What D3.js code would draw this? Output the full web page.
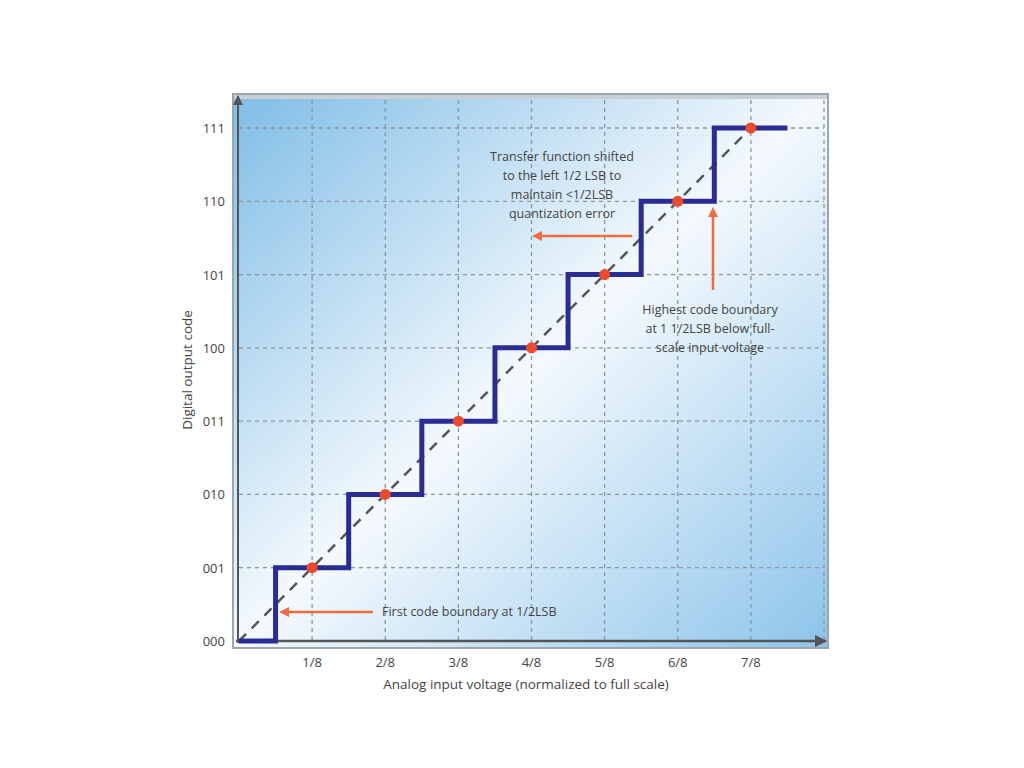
<!DOCTYPE html>
<html><head><meta charset="utf-8">
<script src="https://cdn.jsdelivr.net/npm/d3@7"></script>
<style>body{margin:0;background:#fff}</style></head>
<body><svg id="c" width="1024" height="768"></svg>
<script>
const xTickLabels = ["1/8","2/8","3/8","4/8","5/8","6/8","7/8"];
const xTickValues = [1,2,3,4,5,6,7];
const codes = ["000","001","010","011","100","101","110","111"];
// staircase: [x (in LSB), code]
const stepX = [0,0.5,1.5,2.5,3.5,4.5,5.5,6.5,7.5];
const stepCode = [0,1,2,3,4,5,6,7];
const dotsX = [1,2,3,4,5,6,7];
const dotsY = [1,2,3,4,5,6,7];

const svg = d3.select("#c");
const font = "'Open Sans', 'Noto Sans', sans-serif";
const x = d3.scaleLinear().domain([0,8]).range([239,824]);
const y = d3.scaleLinear().domain([0,7]).range([641,128]);

const defs = svg.append("defs");
const g = defs.append("linearGradient").attr("id","bg").attr("x1","0").attr("y1","0").attr("x2","1").attr("y2","1");
g.append("stop").attr("offset","0").attr("stop-color","#7fbde6");
g.append("stop").attr("offset","0.5").attr("stop-color","#f4f9fd");
g.append("stop").attr("offset","1").attr("stop-color","#8cc4ea");

svg.append("rect").attr("x",233).attr("y",94).attr("width",595).attr("height",554).attr("fill","url(#bg)").attr("stroke","#9aa6b0").attr("stroke-width",2);
svg.append("rect").attr("x",234).attr("y",95).attr("width",593).attr("height",4).attr("fill","#c8d0d6");

// grid
const grid = svg.append("g").attr("stroke","#8a96a0").attr("stroke-width",1.3).attr("stroke-dasharray","4,4");
[1,2,3,4,5,6,7,8].forEach(v=>grid.append("line").attr("x1",x(v)).attr("x2",x(v)).attr("y1",100).attr("y2",641));
[1,2,3,4,5,6,7].forEach(v=>grid.append("line").attr("y1",y(v)).attr("y2",y(v)).attr("x1",239).attr("x2",824));

// axes arrows
defs.append("marker").attr("id","ah").attr("viewBox","0 0 10 10").attr("refX",9).attr("refY",5)
 .attr("markerWidth",5).attr("markerHeight",5).attr("orient","auto")
 .append("path").attr("d","M0,0L10,5L0,10z").attr("fill","#555");
svg.append("line").attr("x1",236).attr("y1",641).attr("x2",826).attr("y2",641).attr("stroke","#555").attr("stroke-width",2.5).attr("marker-end","url(#ah)");
svg.append("line").attr("x1",238).attr("y1",643).attr("x2",238).attr("y2",96).attr("stroke","#555").attr("stroke-width",2).attr("marker-end","url(#ah)");

// tick labels
svg.append("g").selectAll("text").data(xTickValues).join("text")
 .attr("x",d=>x(d)).attr("y",667).attr("text-anchor","middle").attr("font-family",font).attr("font-size",13).attr("fill","#444")
 .text((d,i)=>xTickLabels[i]);
svg.append("g").selectAll("text").data(codes).join("text")
 .attr("x",225).attr("y",(d,i)=>y(i)+5).attr("text-anchor","end").attr("font-family",font).attr("font-size",13).attr("fill","#444").text(d=>d);
svg.append("text").attr("x",526).attr("y",689).attr("text-anchor","middle").attr("font-family",font).attr("font-size",13.5).attr("fill","#444").text("Analog input voltage (normalized to full scale)");
svg.append("text").attr("transform","translate(192,370) rotate(-90)").attr("text-anchor","middle").attr("font-family",font).attr("font-size",13.5).attr("fill","#444").text("Digital output code");

// diagonal
svg.append("line").attr("x1",x(0)).attr("y1",y(0)).attr("x2",x(7)).attr("y2",y(7)).attr("stroke","#555").attr("stroke-width",2.5).attr("stroke-dasharray","10,8");

// staircase
const pts=[];
stepCode.forEach((c,i)=>{pts.push([stepX[i],c]);pts.push([stepX[i+1],c]);});
svg.append("path").attr("d",d3.line().x(d=>x(d[0])).y(d=>y(d[1]))(pts)).attr("fill","none").attr("stroke","#2b2c93").attr("stroke-width",5);

svg.append("g").selectAll("circle").data(dotsX).join("circle").attr("cx",d=>x(d)).attr("cy",(d,i)=>y(dotsY[i])).attr("r",5.5).attr("fill","#ee4a2a");

// annotations
defs.append("marker").attr("id","oa").attr("viewBox","0 0 10 10").attr("refX",2).attr("refY",5)
 .attr("markerWidth",4).attr("markerHeight",4).attr("orient","auto-start-reverse")
 .append("path").attr("d","M0,0L10,5L0,10z").attr("fill","#f06a40");
const ann=(x1,y1,x2,y2)=>svg.append("line").attr("x1",x1).attr("y1",y1).attr("x2",x2).attr("y2",y2).attr("stroke","#f06a40").attr("stroke-width",2.5).attr("marker-start","url(#oa)");
ann(540,236,632,236);
ann(713,215,713,290);
ann(287,612,373,612);
const txt=(lines,xx,yy)=>{const t=svg.append("text").attr("font-family",font).attr("font-size",12.5).attr("fill","#444").attr("text-anchor","middle");
 lines.forEach((l,i)=>t.append("tspan").attr("x",xx).attr("y",yy+i*19).text(l));};
txt(["Transfer function shifted","to the left 1/2 LSB to","maintain <1/2LSB","quantization error"],562,161);
txt(["Highest code boundary","at 1 1/2LSB below full-","scale input voltage"],710,314);
svg.append("text").attr("x",382).attr("y",616).attr("font-family",font).attr("font-size",12.5).attr("fill","#444").text("First code boundary at 1/2LSB");
</script></body></html>
